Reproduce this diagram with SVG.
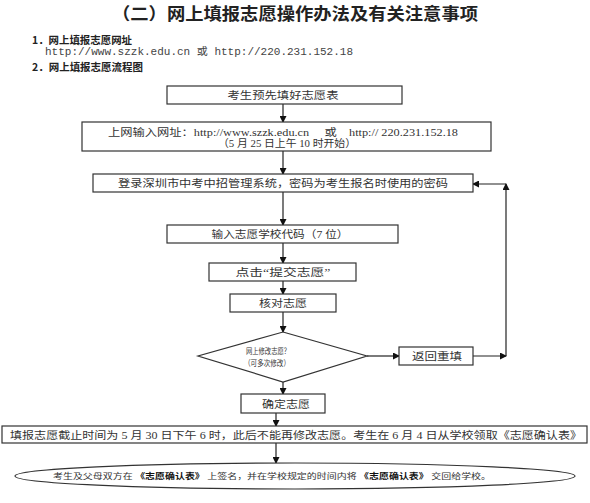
<svg xmlns="http://www.w3.org/2000/svg" width="590" height="503" viewBox="0 0 590 503">
<style>
.bg{fill:#fff}
.box{fill:#fff;stroke:#333;stroke-width:1.2}
.t{font-family:"Liberation Serif","Noto Sans CJK SC",serif;font-size:10.5px;fill:#333;text-anchor:middle;dominant-baseline:central}
.s{font-size:8px}
.h{font-family:"Noto Sans CJK SC",sans-serif;font-weight:bold;fill:#222}
.u{font-family:"Liberation Mono","Noto Sans CJK SC",monospace;font-size:10px;fill:#444}
.b{font-weight:bold;fill:#111}
.ln{stroke:#222;stroke-width:1.2;fill:none}
</style>
<defs>
<marker id="ah" markerWidth="7" markerHeight="7" refX="6" refY="3.5" orient="auto" markerUnits="userSpaceOnUse">
<path d="M0,0 L7,3.5 L0,7 Z" fill="#111"/>
</marker>
</defs>
<rect class="bg" width="590" height="503"/>
<g id="header">
<text class="h" x="295" y="12" font-size="17" text-anchor="middle" dominant-baseline="central" textLength="366" lengthAdjust="spacingAndGlyphs">（二）网上填报志愿操作办法及有关注意事项</text>
<text class="h" x="32" y="39" font-size="10.5" dominant-baseline="central" textLength="100" lengthAdjust="spacingAndGlyphs">1．网上填报志愿网址</text>
<text class="u" x="45" y="52" dominant-baseline="central" textLength="308" lengthAdjust="spacingAndGlyphs">http://www.szzk.edu.cn  或  http://220.231.152.18</text>
<text class="h" x="32" y="66" font-size="10.5" dominant-baseline="central" textLength="111" lengthAdjust="spacingAndGlyphs">2．网上填报志愿流程图</text>
</g>
<g id="connectors">
<line class="ln" x1="283" y1="104" x2="283" y2="122" marker-end="url(#ah)"/>
<line class="ln" x1="283" y1="151" x2="283" y2="174" marker-end="url(#ah)"/>
<line class="ln" x1="283" y1="192" x2="283" y2="225" marker-end="url(#ah)"/>
<line class="ln" x1="283" y1="243" x2="283" y2="263" marker-end="url(#ah)"/>
<line class="ln" x1="283" y1="281" x2="283" y2="294" marker-end="url(#ah)"/>
<line class="ln" x1="283" y1="312" x2="283" y2="332" marker-end="url(#ah)"/>
<line class="ln" x1="283" y1="382" x2="283" y2="394" marker-end="url(#ah)"/>
<line class="ln" x1="367" y1="356" x2="399" y2="356" marker-end="url(#ah)"/>
<line class="ln" x1="473" y1="356" x2="506" y2="356" marker-end="url(#ah)"/>
<line class="ln" x1="506" y1="356" x2="506" y2="184" marker-end="url(#ah)"/>
<line class="ln" x1="506" y1="184" x2="473" y2="184" marker-end="url(#ah)"/>
<line class="ln" x1="276" y1="413" x2="276" y2="426" marker-end="url(#ah)"/>
<line class="ln" x1="276" y1="443" x2="276" y2="463" marker-end="url(#ah)"/>
</g>
<g id="n1">
<rect class="box" x="167" y="86" width="235" height="18"/>
<text class="t" x="283" y="95" textLength="111" lengthAdjust="spacingAndGlyphs">考生预先填好志愿表</text>
</g>
<g id="n2">
<rect class="box" x="82" y="122" width="409" height="29"/>
<text class="t" x="283" y="132" textLength="350" lengthAdjust="spacingAndGlyphs">上网输入网址：http://www.szzk.edu.cn　 或　http:// 220.231.152.18</text>
<text class="t" x="287" y="143" textLength="138" lengthAdjust="spacingAndGlyphs">（5 月 25 日上午 10 时开始）</text>
</g>
<g id="n3">
<rect class="box" x="93" y="174" width="380" height="18"/>
<text class="t" x="283" y="183" textLength="330" lengthAdjust="spacingAndGlyphs">登录深圳市中考中招管理系统，密码为考生报名时使用的密码</text>
</g>
<g id="n4">
<rect class="box" x="167" y="225" width="231" height="18"/>
<text class="t" x="280" y="234" textLength="137" lengthAdjust="spacingAndGlyphs">输入志愿学校代码（7 位）</text>
</g>
<g id="n5">
<rect class="box" x="209" y="263" width="147" height="18"/>
<text class="t" x="283" y="272" textLength="95" lengthAdjust="spacingAndGlyphs">点击“提交志愿”</text>
</g>
<g id="n6">
<rect class="box" x="230" y="294" width="106" height="18"/>
<text class="t" x="283" y="303" textLength="48" lengthAdjust="spacingAndGlyphs">核对志愿</text>
</g>
<g id="n7">
<polygon class="box" points="283,332 367,356 283,382 198,356"/>
<text class="t s" x="268" y="351" textLength="44" lengthAdjust="spacingAndGlyphs">网上修改志愿？</text>
<text class="t s" x="267" y="363" textLength="46" lengthAdjust="spacingAndGlyphs">（可多次修改）</text>
</g>
<g id="n8">
<rect class="box" x="399" y="347" width="74" height="18"/>
<text class="t" x="437" y="356" textLength="50" lengthAdjust="spacingAndGlyphs">返回重填</text>
</g>
<g id="n9">
<rect class="box" x="241" y="394" width="84" height="19"/>
<text class="t" x="286" y="404" textLength="48" lengthAdjust="spacingAndGlyphs">确定志愿</text>
</g>
<g id="n10">
<rect class="box" x="2" y="426" width="585" height="17"/>
<text class="t" x="296" y="435" textLength="572" lengthAdjust="spacingAndGlyphs">填报志愿截止时间为 5 月 30 日下午 6 时，此后不能再修改志愿。考生在 6 月 4 日从学校领取《志愿确认表》</text>
</g>
<g id="n11">
<ellipse class="box" cx="295" cy="476" rx="280" ry="13"/>
<text class="t s" x="272" y="476" textLength="438" lengthAdjust="spacingAndGlyphs">考生及父母双方在 <tspan class="b">《志愿确认表》</tspan> 上签名，并在学校规定的时间内将 <tspan class="b">《志愿确认表》</tspan> 交回给学校。</text>
</g>
</svg>
